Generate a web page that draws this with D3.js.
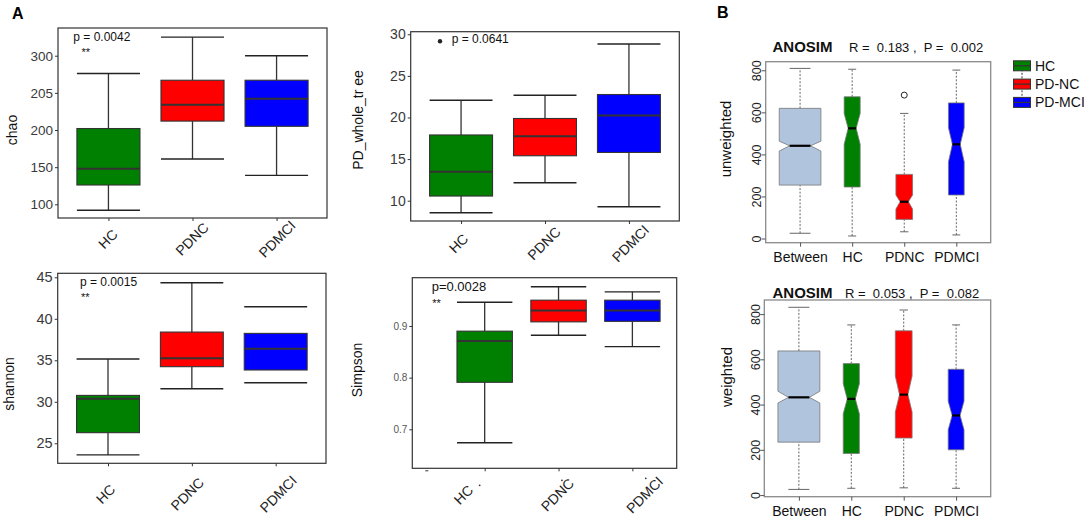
<!DOCTYPE html>
<html>
<head>
<meta charset="utf-8">
<script src="https://cdn.jsdelivr.net/npm/d3@7"></script>
<style>
  body { margin: 0; background: #fff; }
  svg { display: block; font-family: "Liberation Sans", Arial, sans-serif; }
</style>
</head>
<body>
<div id="fig"></div>
<script>
  // ---- Panel A data: [lower whisker, Q1, median, Q3, upper whisker] per group ----
  const groups = ["HC", "PDNC", "PDMCI"];
  const groupFills = ["#008000", "#ff0000", "#0000ff"];

  const chaoStats = [[92, 126, 148, 202, 276], [161, 212, 234, 267, 325], [139, 205, 242, 267, 300]];
  const chaoTicks = [100, 150, 200, 250, 300];
  const chaoTickLabels = ["100", "150", "200", "205", "300"];

  const pdStats = [[8.56, 10.56, 13.47, 17.9, 22.08], [12.16, 15.4, 17.75, 19.88, 22.68], [9.28, 15.8, 20.24, 22.76, 28.83]];
  const pdTicks = [10, 15, 20, 25, 30];

  const shannonStats = [[23.6, 26.28, 30.36, 30.77, 35.16], [31.57, 34.23, 35.24, 38.4, 44.35], [32.29, 33.83, 36.4, 38.24, 41.45]];
  const shannonTicks = [25, 30, 35, 40, 45];

  const simpsonStats = [[0.674, 0.791, 0.871, 0.890, 0.946], [0.882, 0.908, 0.930, 0.950, 0.976], [0.860, 0.909, 0.930, 0.950, 0.966]];
  const simpsonTicks = [0.7, 0.8, 0.9];

  // ---- Panel B data (ANOSIM distance ranks) ----
  const anosimGroups = ["Between", "HC", "PDNC", "PDMCI"];
  const anosimFills = ["#b0c4de", "#008000", "#ff0000", "#0000ff"];
  const anosimN = [400, 59, 64, 57];
  const anosimTicks = [0, 200, 400, 600, 800];
  const legendLabels = ["HC", "PD-NC", "PD-MCI"];

  const unweightedStats = [[25, 254, 441, 619, 809], [12, 245, 524, 674, 805], [32, 91, 175, 305, 595], [17, 207, 448, 645, 801]];
  const unweightedConf = [[416, 463], [448, 595], [140, 207], [365, 527]];
  const unweightedOut = [[], [], [682], []];

  const weightedStats = [[25, 234, 432, 637, 830], [30, 184, 425, 581, 752], [32, 252, 444, 726, 818], [30, 200, 352, 556, 752]];
  const weightedConf = [[407, 459], [359, 492], [367, 526], [289, 415]];
  const weightedOut = [[], [], [], []];

  const width = 1084, height = 518;
  const svg = d3.select("#fig").append("svg")
    .attr("width", width).attr("height", height)
    .attr("viewBox", `0 0 ${width} ${height}`);

  // panel letters
  svg.append("text").attr("x", 12).attr("y", 19).attr("font-size", 16).attr("font-weight", "bold").text("A");
  svg.append("text").attr("x", 717).attr("y", 18).attr("font-size", 16).attr("font-weight", "bold").text("B");

  // ---- A panels (ggplot style boxplots) ----
  const alphaPanels = [
    { stats: chaoStats, ticks: chaoTicks, tickLabels: chaoTickLabels, ylab: "chao",
      box: [58, 28, 327, 218], yDomain: [81.6, 337.3], xDomain: [0.4, 3.6], tickFont: 13.5,
      labShift: [-1, -1, 0], labDy: 21, ylabPos: [12, 130], stemless: [],
      notes: [{ t: "p = 0.0042", dx: 15.3, dy: 13, size: 12 }, { t: "**", dx: 23.5, dy: 28, size: 11 }] },
    { stats: pdStats, ticks: pdTicks, ylab: "PD_whole_tr ee",
      box: [410.7, 31.7, 679.3, 221], yDomain: [7.56, 30.31], xDomain: [0.4, 3.6], tickFont: 14,
      labShift: [-3, -1.5, 1], labDy: 22.4, ylabPos: [358, 120], stemless: [], dot: [29.3, 9.6],
      notes: [{ t: "p = 0.0641", dx: 41, dy: 11, size: 12 }] },
    { stats: shannonStats, ticks: shannonTicks, ylab: "shannon",
      box: [57.7, 273.3, 326, 463.3], yDomain: [22.59, 45.48], xDomain: [0.4, 3.6], tickFont: 14.5,
      labShift: [-3, -5, 2], labDy: 30.7, ylabPos: [9, 384], stemless: ["PDMCI"],
      notes: [{ t: "p = 0.0015", dx: 22.3, dy: 12.7, size: 12 }, { t: "**", dx: 23.3, dy: 28, size: 11 }] },
    { stats: simpsonStats, ticks: simpsonTicks, ylab: "Simpson",
      box: [412.3, 277.7, 676.7, 468.3], yDomain: [0.6245, 0.9935], xDomain: [0.02, 3.6], tickFont: 10,
      tickColor: "#555", labShift: [-21.7, -1.6, 11.7], labDy: 26.5, ylabPos: [357, 370], stemless: [],
      specks: [[-5, 17], [3.4, 12], [13.4, 10]],
      notes: [{ t: "p=0.0028", dx: 19.4, dy: 13.3, size: 13 }, { t: "**", dx: 20, dy: 29.3, size: 11 }] }
  ];

  alphaPanels.forEach(p => {
    const [x0, y0, x1, y1] = p.box;
    const x = d3.scaleLinear().domain(p.xDomain).range([x0, x1]);
    const y = d3.scaleLinear().domain(p.yDomain).range([y1, y0]);
    const unit = x(1) - x(0);
    const hw = unit * 0.75 / 2;
    const g = svg.append("g");

    // y axis
    const yAxis = d3.axisLeft(y).tickValues(p.ticks).tickSize(3).tickPadding(2)
      .tickFormat((d, i) => p.tickLabels ? p.tickLabels[i] : d3.format("")(d));
    g.append("g").attr("transform", `translate(${x0},0)`).call(yAxis)
      .call(a => a.select(".domain").remove())
      .call(a => a.selectAll(".tick line").attr("stroke", "#333"))
      .call(a => a.selectAll(".tick text").attr("font-size", p.tickFont)
        .attr("fill", p.tickColor || "#3a3a3a").attr("font-family", null));

    // x axis with rotated labels centred under each tick
    const xAxis = d3.axisBottom(x).tickValues(groups.map((d, i) => i + 1)).tickSize(3)
      .tickFormat((d, i) => groups[i]);
    g.append("g").attr("transform", `translate(0,${y1})`).call(xAxis)
      .call(a => a.select(".domain").remove())
      .call(a => a.selectAll(".tick line").attr("stroke", "#333"))
      .call(a => a.selectAll(".tick text")
        .attr("x", 0).attr("y", 0).attr("dy", null)
        .attr("transform", (d, i) => `translate(${p.labShift[i]},${p.labDy}) rotate(-45)`)
        .attr("text-anchor", "middle").attr("dominant-baseline", "central")
        .attr("font-size", 14).attr("fill", "#222").attr("font-family", null));

    // stray specks next to some labels (scan artefacts in the original)
    if (p.specks) {
      p.specks.forEach((s, i) => {
        g.append("circle").attr("cx", x(i + 1) + s[0]).attr("cy", y1 + s[1]).attr("r", 0.9).attr("fill", "#333");
      });
      g.append("line").attr("x1", x0 + 13).attr("x2", x0 + 16).attr("y1", y1 + 2.5).attr("y2", y1 + 2.5)
        .attr("stroke", "#333").attr("stroke-width", 1);
    }

    // whiskers + caps
    p.stats.forEach((s, i) => {
      const cx = x(i + 1);
      if (!p.stemless.includes(groups[i])) {
        g.append("line").attr("x1", cx).attr("x2", cx).attr("y1", y(s[0])).attr("y2", y(s[1]))
          .attr("stroke", "#333").attr("stroke-width", 1.3);
        g.append("line").attr("x1", cx).attr("x2", cx).attr("y1", y(s[3])).attr("y2", y(s[4]))
          .attr("stroke", "#333").attr("stroke-width", 1.3);
      }
      [s[0], s[4]].forEach(v => {
        g.append("line").attr("x1", cx - hw).attr("x2", cx + hw).attr("y1", y(v)).attr("y2", y(v))
          .attr("stroke", "#222").attr("stroke-width", 1.4);
      });
    });

    // boxes
    g.selectAll(".abox").data(p.stats).enter().append("rect")
      .attr("x", (d, i) => x(i + 1) - hw).attr("width", hw * 2)
      .attr("y", d => y(d[3])).attr("height", d => y(d[1]) - y(d[3]))
      .attr("fill", (d, i) => groupFills[i]).attr("stroke", "#333").attr("stroke-width", 1.1);
    g.selectAll(".amed").data(p.stats).enter().append("line")
      .attr("x1", (d, i) => x(i + 1) - hw).attr("x2", (d, i) => x(i + 1) + hw)
      .attr("y1", d => y(d[2])).attr("y2", d => y(d[2]))
      .attr("stroke", "#333").attr("stroke-width", 2);

    // frame
    g.append("rect").attr("x", x0).attr("y", y0).attr("width", x1 - x0).attr("height", y1 - y0)
      .attr("fill", "none").attr("stroke", "#333").attr("stroke-width", 1.2);

    // annotations
    if (p.dot) g.append("circle").attr("cx", x0 + p.dot[0]).attr("cy", y0 + p.dot[1]).attr("r", 2.2).attr("fill", "#222");
    p.notes.forEach(n => {
      g.append("text").attr("x", x0 + n.dx).attr("y", y0 + n.dy).attr("font-size", n.size)
        .attr("fill", "#111").text(n.t);
    });

    // y label
    g.append("text").attr("transform", `translate(${p.ylabPos[0]},${p.ylabPos[1]}) rotate(-90)`)
      .attr("text-anchor", "middle").attr("dominant-baseline", "central")
      .attr("font-size", 14).attr("fill", "#111").text(p.ylab);
  });

  // ---- B panels (base R notched, varwidth boxplots) ----
  const anosimPanels = [
    { stats: unweightedStats, conf: unweightedConf, out: unweightedOut, ylab: "unweighted",
      box: [765.7, 61.7, 990.7, 242.7], ylabPos: [725, 139],
      title: "ANOSIM", stat: "R =  0.183 ,  P =  0.002", titleY: 52, statX: 849 },
    { stats: weightedStats, conf: weightedConf, out: weightedOut, ylab: "weighted",
      box: [764.3, 300, 990.7, 496.7], ylabPos: [726, 377],
      title: "ANOSIM", stat: "R =  0.053 ,  P =  0.082", titleY: 298, statX: 845 }
  ];

  const maxN = d3.max(anosimN);
  anosimPanels.forEach(p => {
    const [x0, y0, x1, y1] = p.box;
    const k = anosimGroups.length;
    const xr = [0.5, k + 0.5], xe = (xr[1] - xr[0]) * 0.04;
    const x = d3.scaleLinear().domain([xr[0] - xe, xr[1] + xe]).range([x0, x1]);
    const vals = p.stats.flat().concat(p.out.flat());
    const [lo, hi] = d3.extent(vals), ye = (hi - lo) * 0.04;
    const y = d3.scaleLinear().domain([lo - ye, hi + ye]).range([y1, y0]);
    const g = svg.append("g");

    p.stats.forEach((s, i) => {
      const cx = x(i + 1);
      const wid = (x(0.8 * Math.sqrt(anosimN[i] / maxN)) - x(0)) / 2;
      const [clo, chi] = p.conf[i];
      // whiskers
      [[s[0], s[1]], [s[3], s[4]]].forEach(([a, b]) => {
        g.append("line").attr("x1", cx).attr("x2", cx).attr("y1", y(a)).attr("y2", y(b))
          .attr("stroke", "#666").attr("stroke-width", 1).attr("stroke-dasharray", "2,1.6");
      });
      [s[0], s[4]].forEach(v => {
        g.append("line").attr("x1", cx - wid * 0.5).attr("x2", cx + wid * 0.5).attr("y1", y(v)).attr("y2", y(v))
          .attr("stroke", "#666").attr("stroke-width", 1);
      });
      // notched box
      const pts = [
        [-1, s[1]], [1, s[1]], [1, clo], [0.5, s[2]], [1, chi], [1, s[3]],
        [-1, s[3]], [-1, chi], [-0.5, s[2]], [-1, clo]
      ].map(([f, v]) => [cx + f * wid, y(v)]);
      g.append("path").attr("d", d3.line()(pts) + "Z")
        .attr("fill", anosimFills[i]).attr("stroke", "#777").attr("stroke-width", 0.8);
      g.append("line").attr("x1", cx - wid * 0.5).attr("x2", cx + wid * 0.5)
        .attr("y1", y(s[2])).attr("y2", y(s[2])).attr("stroke", "#000").attr("stroke-width", 2.2);
      p.out[i].forEach(v => {
        g.append("circle").attr("cx", cx).attr("cy", y(v)).attr("r", 3)
          .attr("fill", "none").attr("stroke", "#222").attr("stroke-width", 1);
      });
    });

    // frame
    g.append("rect").attr("x", x0).attr("y", y0).attr("width", x1 - x0).attr("height", y1 - y0)
      .attr("fill", "none").attr("stroke", "#8a8a8a").attr("stroke-width", 1.3);

    // axes
    g.append("g").attr("transform", `translate(${x0},0)`)
      .call(d3.axisLeft(y).tickValues(anosimTicks).tickSize(4))
      .call(a => a.select(".domain").remove())
      .call(a => a.selectAll(".tick line").attr("stroke", "#555"))
      .call(a => a.selectAll(".tick text").attr("transform", "rotate(-90)")
        .attr("x", 0).attr("y", -4.5).attr("dy", null).attr("text-anchor", "middle")
        .attr("font-size", 12.5).attr("fill", "#222").attr("font-family", null));
    g.append("g").attr("transform", `translate(0,${y1})`)
      .call(d3.axisBottom(x).tickValues(anosimGroups.map((d, i) => i + 1)).tickSize(4)
        .tickFormat((d, i) => anosimGroups[i]))
      .call(a => a.select(".domain").remove())
      .call(a => a.selectAll(".tick line").attr("stroke", "#555"))
      .call(a => a.selectAll(".tick text").attr("y", 19.5).attr("dy", null)
        .attr("font-size", 14).attr("fill", "#111").attr("font-family", null));

    // title
    g.append("text").attr("x", 772.5).attr("y", p.titleY).attr("font-size", 15).attr("font-weight", "bold")
      .attr("fill", "#111").text(p.title);
    g.append("text").attr("x", p.statX).attr("y", p.titleY).attr("font-size", 13)
      .attr("fill", "#111").style("white-space", "pre").text(p.stat);

    // y label
    g.append("text").attr("transform", `translate(${p.ylabPos[0]},${p.ylabPos[1]}) rotate(-90)`)
      .attr("text-anchor", "middle").attr("dominant-baseline", "central")
      .attr("font-size", 15).attr("fill", "#111").text(p.ylab);
  });

  // ---- legend ----
  const leg = svg.append("g");
  const legY = d3.scalePoint().domain(legendLabels).range([65.8, 102.4]);
  leg.append("line").attr("x1", 1022).attr("x2", 1022)
    .attr("y1", legY(legendLabels[0])).attr("y2", legY(legendLabels[legendLabels.length - 1]))
    .attr("stroke", "#333").attr("stroke-dasharray", "2,1.5");
  legendLabels.forEach((d, i) => {
    const cy = legY(d);
    leg.append("rect").attr("x", 1013.5).attr("y", cy - 5).attr("width", 17).attr("height", 10)
      .attr("fill", groupFills[i]).attr("stroke", "#333").attr("stroke-width", 1);
    leg.append("line").attr("x1", 1013.5).attr("x2", 1030.5).attr("y1", cy).attr("y2", cy)
      .attr("stroke", "#333").attr("stroke-width", 1.2);
    leg.append("text").attr("x", 1035).attr("y", cy).attr("dominant-baseline", "central")
      .attr("font-size", 14).attr("fill", "#111").text(d);
  });
</script>
</body>
</html>
